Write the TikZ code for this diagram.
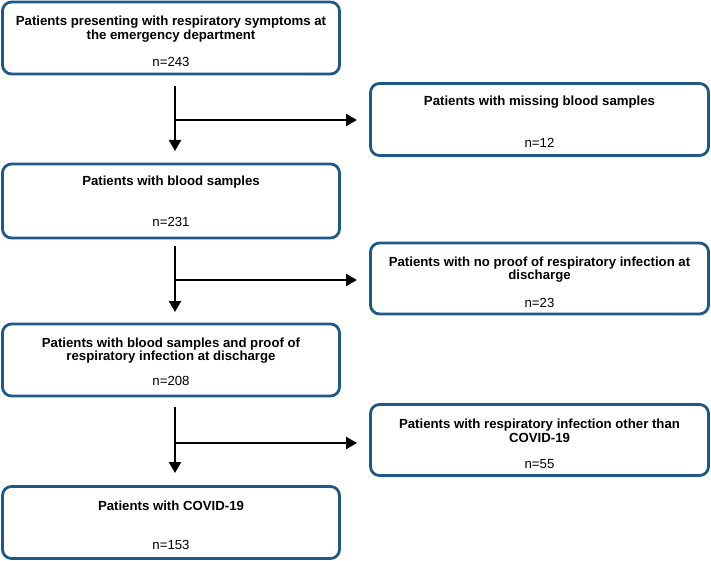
\documentclass[tikz,border=0pt]{standalone}
\usepackage{fontspec}
\setmainfont{Liberation Sans}
\usetikzlibrary{arrows.meta}
\definecolor{boxblue}{RGB}{30,88,135}
\tikzset{
  flowbox/.style={draw=boxblue, line width=2.8pt, rounded corners=9pt, rectangle, inner sep=0pt},
  ttl/.style={font=\bfseries\fontsize{13.2}{13.5}\selectfont, align=center, inner sep=0pt},
  cnt/.style={font=\fontsize{13.2}{13.5}\selectfont, inner sep=0pt},
  arr/.style={line width=2.4pt, -{Triangle[length=11pt,width=12pt]}}
}
\begin{document}
\begin{tikzpicture}[x=1pt,y=-1pt]
\useasboundingbox (0,0) rectangle (711,561);
% left boxes
\node[flowbox, minimum width=337pt, minimum height=72pt] (b1) at (171,38) {};
\node[flowbox, minimum width=337pt, minimum height=74pt] (b2) at (171,201) {};
\node[flowbox, minimum width=337pt, minimum height=72pt] (b3) at (171,360) {};
\node[flowbox, minimum width=337pt, minimum height=72pt] (b4) at (171,522.5) {};
% right boxes
\node[flowbox, minimum width=338pt, minimum height=72pt] (r1) at (539.5,119.5) {};
\node[flowbox, minimum width=338pt, minimum height=71pt] (r2) at (539.5,278.5) {};
\node[flowbox, minimum width=338pt, minimum height=71pt] (r3) at (539.5,440) {};
% texts
\node[ttl] (t1) at (171,29) {Patients presenting with respiratory symptoms at\\the emergency department};
\node[cnt] (n1) at (171,62) {n=243};
\node[ttl] (t2) at (171,182.5) {Patients with blood samples};
\node[cnt] (n2) at (171,222) {n=231};
\node[ttl] (t3) at (171,350.5) {Patients with blood samples and proof of\\respiratory infection at discharge};
\node[cnt] (n3) at (171,381) {n=208};
\node[ttl] (t4) at (171,506) {Patients with COVID-19};
\node[cnt] (n4) at (171,545) {n=153};
\node[ttl] (tr1) at (539.5,102) {Patients with missing blood samples};
\node[cnt] (nr1) at (539.5,143) {n=12};
\node[ttl] (tr2) at (539.5,269.5) {Patients with no proof of respiratory infection at\\discharge};
\node[cnt] (nr2) at (539.5,303) {n=23};
\node[ttl] (tr3) at (539.5,431) {Patients with respiratory infection other than\\COVID-19};
\node[cnt] (nr3) at (539.5,464) {n=55};
% connectors
\coordinate (s1) at (175,86);
\coordinate (e1) at (175,151);
\coordinate (j1) at (175,120);
\coordinate (h1) at (357,120);
\coordinate (s2) at (175,246);
\coordinate (e2) at (175,312);
\coordinate (j2) at (175,280);
\coordinate (h2) at (357,280);
\coordinate (s3) at (175,407);
\coordinate (e3) at (175,473);
\coordinate (j3) at (175,443);
\coordinate (h3) at (357,443);
\draw[arr] (s1) -- (e1);
\draw[arr] (j1) -- (h1);
\draw[arr] (s2) -- (e2);
\draw[arr] (j2) -- (h2);
\draw[arr] (s3) -- (e3);
\draw[arr] (j3) -- (h3);
\end{tikzpicture}
\end{document}
